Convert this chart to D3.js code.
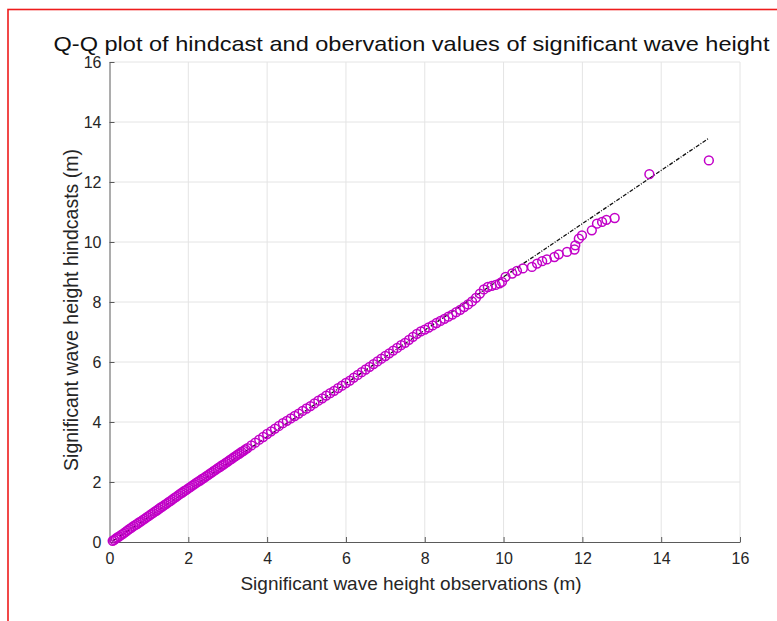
<!DOCTYPE html>
<html>
<head>
<meta charset="utf-8">
<script src="https://cdn.jsdelivr.net/npm/d3@7"></script>
<style>
  body { margin: 0; background: #fff; }
  svg { display: block; font-family: "Liberation Sans", Arial, sans-serif; }
</style>
</head>
<body>
<script>
const obs = [
  0.08, 0.12, 0.16, 0.2, 0.25, 0.3, 0.35, 0.4, 0.45, 0.5, 0.55, 0.6, 0.65, 0.7, 0.75, 0.8, 0.85, 0.9, 0.95, 1.0,
  1.05, 1.1, 1.15, 1.2, 1.25, 1.3, 1.35, 1.4, 1.45, 1.5, 1.55, 1.6, 1.65, 1.7, 1.75, 1.8, 1.85, 1.9, 1.95, 2.0,
  2.05, 2.1, 2.15, 2.2, 2.25, 2.3, 2.35, 2.4, 2.45, 2.5, 2.55, 2.6, 2.65, 2.7, 2.75, 2.8, 2.85, 2.9, 2.95, 3.0,
  3.05, 3.1, 3.15, 3.2, 3.25, 3.3, 3.35, 3.4, 3.45, 3.5,
  3.6, 3.7, 3.8, 3.9, 4.0, 4.1, 4.2, 4.3, 4.4, 4.5, 4.6, 4.7, 4.8, 4.9, 5.0, 5.1, 5.2, 5.3, 5.4, 5.5,
  5.6, 5.7, 5.8, 5.9, 6.0, 6.1, 6.2, 6.3, 6.4, 6.5, 6.6, 6.7, 6.8, 6.9, 7.0, 7.1, 7.2, 7.3, 7.4, 7.5,
  7.6, 7.7, 7.8, 7.9, 8.0, 8.1, 8.2, 8.3, 8.4, 8.5, 8.6, 8.7, 8.8, 8.9, 9.0, 9.1, 9.2, 9.3, 9.4, 9.5,
  9.6, 9.7, 9.8, 9.9,
  9.96, 10.05, 10.22, 10.34, 10.49, 10.72, 10.85, 10.98, 11.10, 11.29, 11.40, 11.61, 11.80, 11.82,
  11.91, 11.99, 12.24, 12.37, 12.50, 12.61, 12.82, 13.70, 15.21
];

// hindcast quantiles (y)
const hind = [
  0.04, 0.07, 0.11, 0.15, 0.19, 0.24, 0.28, 0.33, 0.38, 0.43, 0.47, 0.52, 0.56, 0.6, 0.65, 0.69, 0.74, 0.78, 0.83, 0.87,
  0.92, 0.96, 1.01, 1.05, 1.1, 1.15, 1.19, 1.24, 1.28, 1.33, 1.37, 1.42, 1.47, 1.51, 1.56, 1.61, 1.65, 1.7, 1.74, 1.79,
  1.83, 1.88, 1.92, 1.97, 2.01, 2.05, 2.1, 2.14, 2.19, 2.23, 2.28, 2.32, 2.37, 2.41, 2.46, 2.5, 2.55, 2.59, 2.64, 2.68,
  2.73, 2.77, 2.82, 2.86, 2.91, 2.95, 3.0, 3.04, 3.09, 3.13,
  3.22, 3.31, 3.41, 3.5, 3.6, 3.69, 3.78, 3.87, 3.96, 4.04, 4.12, 4.2, 4.28, 4.37, 4.45, 4.53, 4.62, 4.71, 4.79, 4.88,
  4.96, 5.04, 5.13, 5.21, 5.3, 5.38, 5.48, 5.57, 5.66, 5.75, 5.84, 5.93, 6.02, 6.11, 6.2, 6.29, 6.38, 6.47, 6.56, 6.64,
  6.74, 6.84, 6.94, 7.02, 7.08, 7.15, 7.22, 7.3, 7.37, 7.44, 7.51, 7.58, 7.66, 7.74, 7.83, 7.92, 8.02, 8.14, 8.28, 8.42,
  8.5, 8.54, 8.57, 8.62,
  8.67, 8.84, 8.95, 9.04, 9.12, 9.17, 9.28, 9.36, 9.42, 9.50, 9.59, 9.67, 9.75, 9.89,
  10.11, 10.22, 10.39, 10.61, 10.67, 10.74, 10.80, 12.26, 12.72
];

// reference line end points
const refObs = [0.08, 15.21];
const refHind = [0.03, 13.46];

const xTicks = [0, 2, 4, 6, 8, 10, 12, 14, 16];
const yTicks = [0, 2, 4, 6, 8, 10, 12, 14, 16];

const width = 777, height = 621;
const margin = {top: 62, right: 37, bottom: 79, left: 109.5};

const svg = d3.select("body").append("svg")
  .attr("width", width)
  .attr("height", height);

// red frame round the figure
svg.append("rect")
  .attr("x", 8).attr("y", 9.5)
  .attr("width", width + 20).attr("height", height + 20)
  .attr("fill", "none")
  .attr("stroke", "#ee1c1c")
  .attr("stroke-width", 1.6);

const x = d3.scaleLinear().domain([0, 16]).range([margin.left, width - margin.right]);
const y = d3.scaleLinear().domain([0, 16]).range([height - margin.bottom, margin.top]);

// grid
svg.append("g")
  .selectAll("line")
  .data(xTicks.slice(1))
  .join("line")
    .attr("x1", d => x(d)).attr("x2", d => x(d))
    .attr("y1", y(0)).attr("y2", y(16))
    .attr("stroke", "#e4e4e4");
svg.append("g")
  .selectAll("line")
  .data(yTicks.slice(1))
  .join("line")
    .attr("x1", x(0)).attr("x2", x(16))
    .attr("y1", d => y(d)).attr("y2", d => y(d))
    .attr("stroke", "#e4e4e4");

// axes, ticks inside like matlab
const xAxis = svg.append("g")
  .attr("transform", `translate(0,${y(0)})`)
  .call(d3.axisBottom(x).tickValues(xTicks).tickSize(-5).tickPadding(11).tickSizeOuter(0));
const yAxis = svg.append("g")
  .attr("transform", `translate(${x(0)},0)`)
  .call(d3.axisLeft(y).tickValues(yTicks).tickSize(-5).tickPadding(8).tickSizeOuter(0));

[xAxis, yAxis].forEach(g => {
  g.attr("font-size", null).attr("font-family", null);
  g.selectAll("path, line").attr("stroke", "#5a5a5a");
  g.selectAll("text").attr("fill", "#262626").style("font-size", "16px");
});

// reference line (dash dot)
svg.append("line")
  .attr("x1", x(refObs[0])).attr("y1", y(refHind[0]))
  .attr("x2", x(refObs[1])).attr("y2", y(refHind[1]))
  .attr("stroke", "#111")
  .attr("stroke-width", 1.3)
  .attr("stroke-dasharray", "4,1.5,1,1.5");

// quantile markers
svg.append("g")
  .selectAll("circle")
  .data(obs.map((d, i) => [d, hind[i]]))
  .join("circle")
    .attr("cx", d => x(d[0]))
    .attr("cy", d => y(d[1]))
    .attr("r", 4.4)
    .attr("fill", "none")
    .attr("stroke", "#c200c8")
    .attr("stroke-width", 1.5);

// labels
svg.append("text")
  .attr("x", 411.5).attr("y", 51)
  .attr("text-anchor", "middle")
  .attr("fill", "#111")
  .attr("textLength", 716)
  .attr("lengthAdjust", "spacingAndGlyphs")
  .style("font-size", "21px")
  .text("Q-Q plot of hindcast and obervation values of significant wave height");

svg.append("text")
  .attr("x", 411).attr("y", 590)
  .attr("text-anchor", "middle")
  .attr("fill", "#262626")
  .style("font-size", "19px")
  .text("Significant wave height observations (m)");

svg.append("text")
  .attr("transform", "translate(78,310) rotate(-90)")
  .attr("text-anchor", "middle")
  .attr("fill", "#262626")
  .style("font-size", "19.5px")
  .text("Significant wave height hindcasts (m)");
</script>
</body>
</html>
